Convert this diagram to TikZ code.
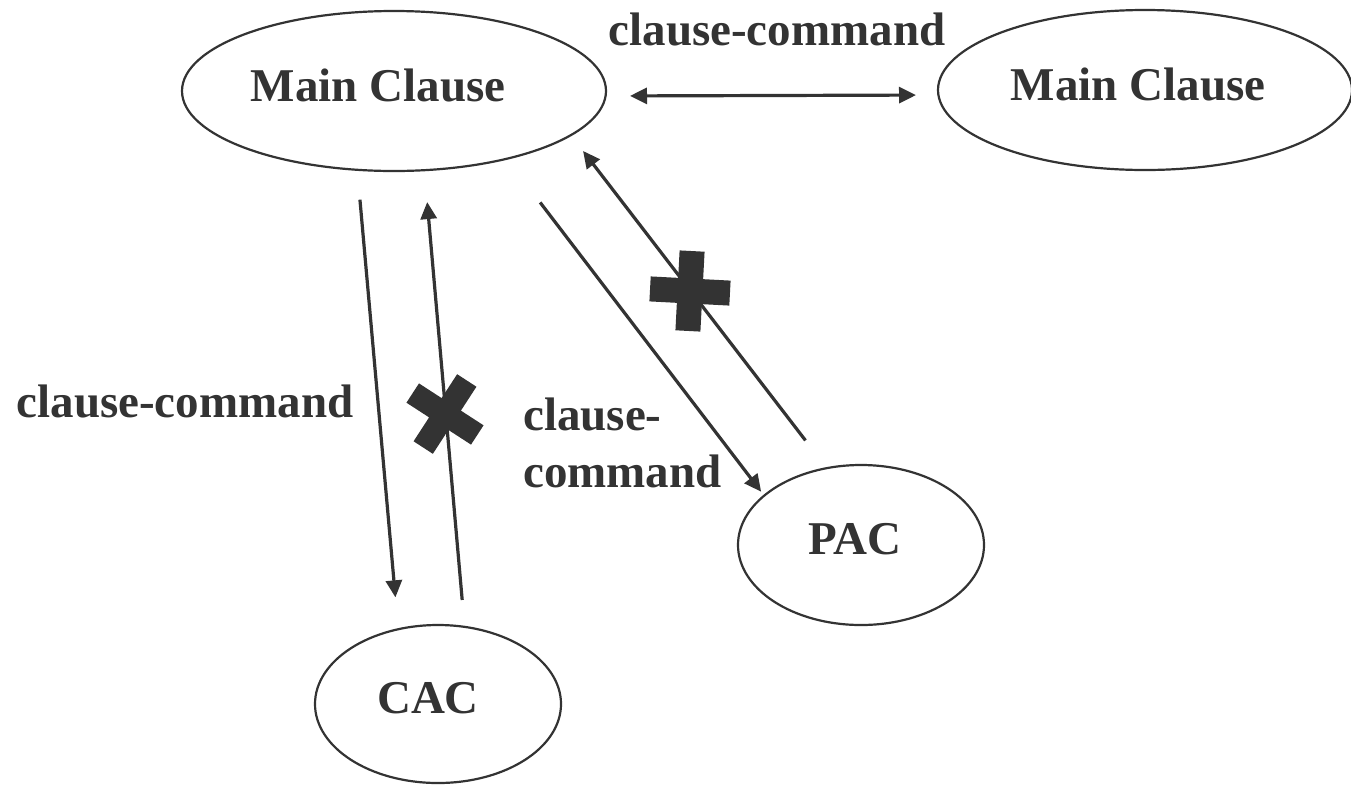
\documentclass[tikz,border=0pt]{standalone}
\usepackage{fontspec}
\setmainfont{Liberation Serif}
\usetikzlibrary{arrows.meta, shapes.geometric}
\definecolor{ink}{HTML}{333333}

\begin{document}
\begin{tikzpicture}[x=1pt, y=-1pt, >={Triangle[length=17pt, width=16pt]},
    clause/.style={ellipse, draw=ink, line width=2.2pt, inner sep=0pt, outer sep=0pt,
        text=ink, text depth=12pt, font=\fontsize{47}{57}\selectfont\bfseries},
    lbl/.style={text=ink, inner sep=0pt, font=\fontsize{47}{57}\selectfont\bfseries},
    conn/.style={ink, line width=3.2pt},
    blot/.style={fill=ink}]
    \useasboundingbox (0,0) rectangle (1351,785);

    % Clause ellipses
    \node[clause, minimum width=424pt, minimum height=160pt] (mainL) at (394,91) {Main Clause\hspace*{32pt}};
    \node[clause, minimum width=414pt, minimum height=160pt] (mainR) at (1145,90) {Main Clause\hspace*{14pt}};
    \node[clause, minimum width=246pt, minimum height=158pt] (cac) at (438,704) {CAC\hspace*{20pt}};
    \node[clause, minimum width=246pt, minimum height=160pt] (pac) at (861,545) {PAC\hspace*{12pt}};

    % Main clause <-> main clause
    \draw[conn, <->, shorten <=24pt, shorten >=22pt] ([yshift=-5pt]mainL.east) -- ([yshift=-5pt]mainR.west);
    \node[lbl, anchor=base] (ccTop) at (777,45) {clause-command};

    % Main clause and CAC
    \draw[conn, ->, shorten <=30pt, shorten >=32pt] (mainL.245) -- (cac.118);
    \draw[conn, ->, shorten <=27pt, shorten >=32pt] (cac.71) -- (mainL.291);
    \node[lbl, anchor=base] (ccLeft) at (185,417) {clause-command};

    % Main clause and PAC
    \draw[conn, ->, shorten <=55pt, shorten >=5pt] (mainL.329) -- (pac.153);
    \draw[conn, ->, shorten <=35pt, shorten >=20pt] (pac.114) -- (mainL.346);
    \node[lbl, anchor=base west, align=left] (ccMid) at (523,487) {clause-\\command};

    % Blocked directions
    \fill[blot, shift={(445,414)}, rotate=-33] (-38.5,-11.5) rectangle (38.5,11.5) (-11.5,-40) rectangle (11.5,40);
    \fill[blot, shift={(690,291)}, rotate=-3] (-40,-12.5) rectangle (40,12.5) (-12.5,-40) rectangle (12.5,40);
\end{tikzpicture}
\end{document}
